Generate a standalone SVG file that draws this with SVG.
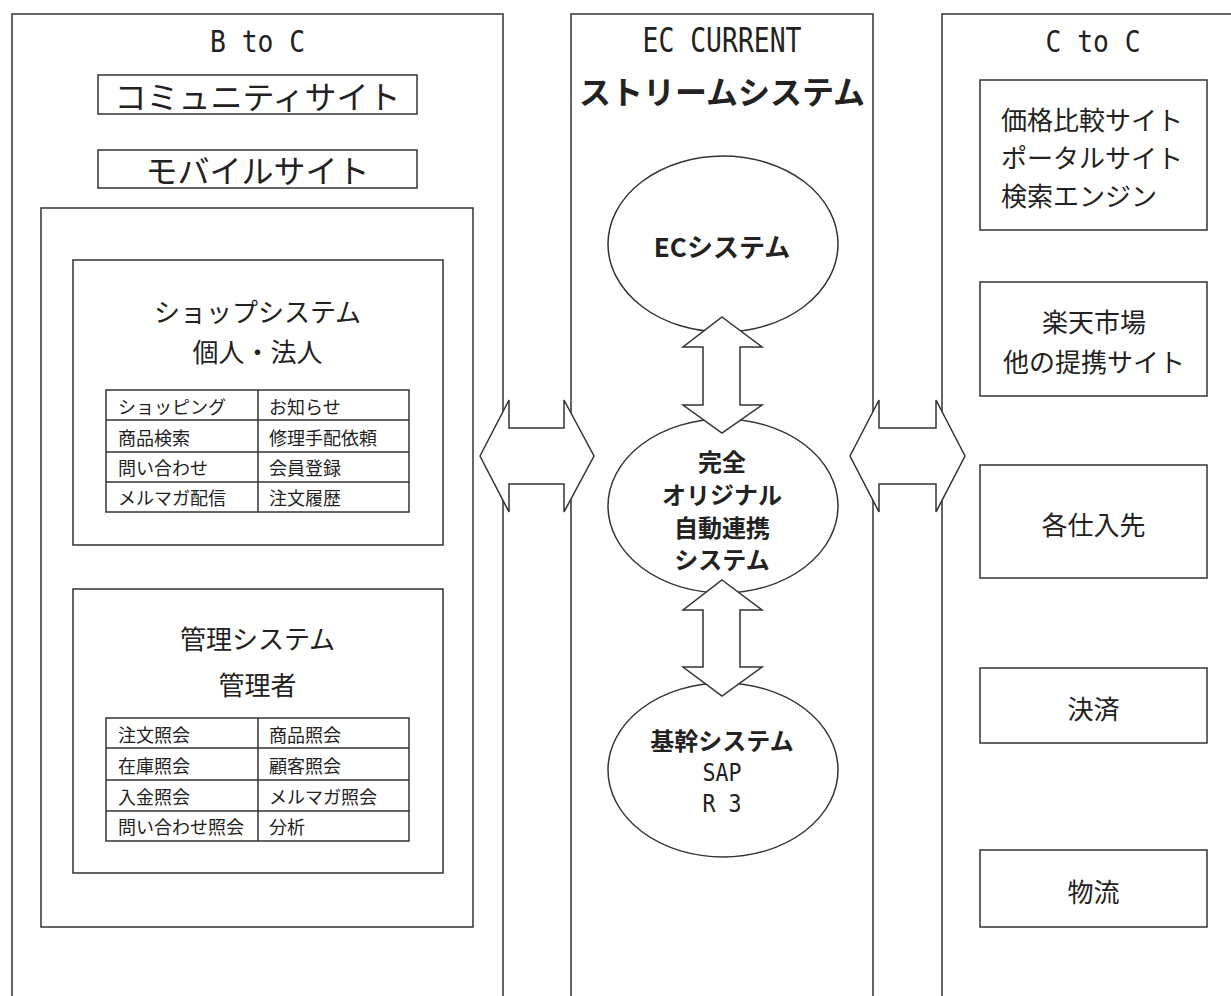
<svg xmlns="http://www.w3.org/2000/svg" width="1231" height="996" viewBox="0 0 1231 996">
<style>
.ln{fill:none;stroke:#333;stroke-width:1.5}
.bx{fill:#fff;stroke:#333;stroke-width:1.5}
.jp{font-family:"Noto Sans CJK JP","Noto Sans",sans-serif;fill:#222;dominant-baseline:central;text-anchor:middle}
.jpl{font-family:"Noto Sans CJK JP","Noto Sans",sans-serif;fill:#222;dominant-baseline:central;text-anchor:start}
.b{font-weight:bold}
.mono{font-family:"DejaVu Sans Mono","Liberation Mono",monospace;fill:#222;text-anchor:middle}
.t18{font-size:18px}
.t24{font-size:24px}
.t26{font-size:26px}
.t32{font-size:32px}
</style>
<rect width="1231" height="996" fill="#fff"/>

<g id="panel-btoc">
<path class="ln" d="M12,996 V14 H503 V996"/>
<text class="mono" x="257.5" y="52" font-size="30" textLength="95" lengthAdjust="spacingAndGlyphs">B to C</text>
</g>
<g id="panel-ec">
<path class="ln" d="M571,996 V14 H873 V996"/>
<text class="mono" x="722" y="52" font-size="33" textLength="159" lengthAdjust="spacingAndGlyphs">EC CURRENT</text>
<text class="jp b t32" x="722" y="90">ストリームシステム</text>
</g>
<g id="panel-ctoc">
<path class="ln" d="M942,996 V14 H1231"/>
<text class="mono" x="1093" y="52" font-size="30" textLength="95" lengthAdjust="spacingAndGlyphs">C to C</text>
</g>

<g id="community-site">
<rect class="bx" x="98" y="75" width="319" height="39"/>
<text class="jp t32" x="257.5" y="95">コミュニティサイト</text>
</g>
<g id="mobile-site">
<rect class="bx" x="98" y="150" width="319" height="38"/>
<text class="jp t32" x="257.5" y="169">モバイルサイト</text>
</g>

<g id="btoc-inner">
<rect class="bx" x="41" y="208" width="432" height="719"/>
</g>

<g id="shop-system">
<rect class="bx" x="73" y="260" width="370" height="285"/>
<text class="jp t26" x="257.5" y="310">ショップシステム</text>
<text class="jp t26" x="257.5" y="350">個人・法人</text>
<rect class="bx" x="106" y="390" width="303" height="122"/>
<path class="ln" d="M258,390 V512 M106,420 H409 M106,452 H409 M106,482 H409"/>
<text class="jpl t18" x="118" y="406">ショッピング</text>
<text class="jpl t18" x="269" y="406">お知らせ</text>
<text class="jpl t18" x="118" y="437">商品検索</text>
<text class="jpl t18" x="269" y="437">修理手配依頼</text>
<text class="jpl t18" x="118" y="467">問い合わせ</text>
<text class="jpl t18" x="269" y="467">会員登録</text>
<text class="jpl t18" x="118" y="497">メルマガ配信</text>
<text class="jpl t18" x="269" y="497">注文履歴</text>
</g>

<g id="admin-system">
<rect class="bx" x="73" y="589" width="370" height="284"/>
<text class="jp t26" x="257.5" y="637">管理システム</text>
<text class="jp t26" x="257.5" y="683">管理者</text>
<rect class="bx" x="106" y="718" width="303" height="123"/>
<path class="ln" d="M258,718 V841 M106,748 H409 M106,780 H409 M106,811 H409"/>
<text class="jpl t18" x="118" y="734">注文照会</text>
<text class="jpl t18" x="269" y="734">商品照会</text>
<text class="jpl t18" x="118" y="765">在庫照会</text>
<text class="jpl t18" x="269" y="765">顧客照会</text>
<text class="jpl t18" x="118" y="796">入金照会</text>
<text class="jpl t18" x="269" y="796">メルマガ照会</text>
<text class="jpl t18" x="118" y="826">問い合わせ照会</text>
<text class="jpl t18" x="269" y="826">分析</text>
</g>

<g id="ec-system">
<ellipse class="bx" cx="723" cy="244" rx="115" ry="88"/>
<text class="jp b t26" x="722" y="245">ECシステム</text>
</g>
<g id="auto-link-system">
<ellipse class="bx" cx="723" cy="506" rx="115" ry="87"/>
<text class="jp b t24" x="722" y="460">完全</text>
<text class="jp b t24" x="722" y="493">オリジナル</text>
<text class="jp b t24" x="722" y="526">自動連携</text>
<text class="jp b t24" x="722" y="558">システム</text>
</g>
<g id="core-system">
<ellipse class="bx" cx="723" cy="770" rx="115" ry="87"/>
<text class="jp b t24" x="722" y="739">基幹システム</text>
<text class="mono" x="722" y="781" font-size="24" textLength="39" lengthAdjust="spacingAndGlyphs">SAP</text>
<text class="mono" x="722" y="812" font-size="24" textLength="39" lengthAdjust="spacingAndGlyphs">R 3</text>
</g>

<g id="price-sites">
<rect class="bx" x="980" y="80" width="227" height="150"/>
<text class="jpl t26" x="1001" y="118">価格比較サイト</text>
<text class="jpl t26" x="1001" y="156">ポータルサイト</text>
<text class="jpl t26" x="1001" y="194">検索エンジン</text>
</g>
<g id="rakuten">
<rect class="bx" x="980" y="282" width="227" height="114"/>
<text class="jp t26" x="1094" y="320">楽天市場</text>
<text class="jp t26" x="1094" y="360">他の提携サイト</text>
</g>
<g id="suppliers">
<rect class="bx" x="980" y="465" width="227" height="113"/>
<text class="jp t26" x="1093.5" y="523">各仕入先</text>
</g>
<g id="payment">
<rect class="bx" x="980" y="668" width="227" height="75"/>
<text class="jp t26" x="1093.5" y="707">決済</text>
</g>
<g id="logistics">
<rect class="bx" x="980" y="850" width="227" height="77"/>
<text class="jp t26" x="1093.5" y="890">物流</text>
</g>

<g id="connectors">
<polygon class="bx" points="722,317 762,347 740,347 740,405 762,405 722,433 683,405 703,405 703,347 683,347"/>
<polygon class="bx" points="722,580 762,610 740,610 740,667 762,667 722,696 683,667 703,667 703,610 683,610"/>
<polygon class="bx" points="480,456 509,400 509,428 564,428 564,400 594,456 564,512 564,484 509,484 509,512"/>
<polygon class="bx" points="850,456 879,400 879,428 936,428 936,400 965,456 936,512 936,484 879,484 879,512"/>
</g>
</svg>
